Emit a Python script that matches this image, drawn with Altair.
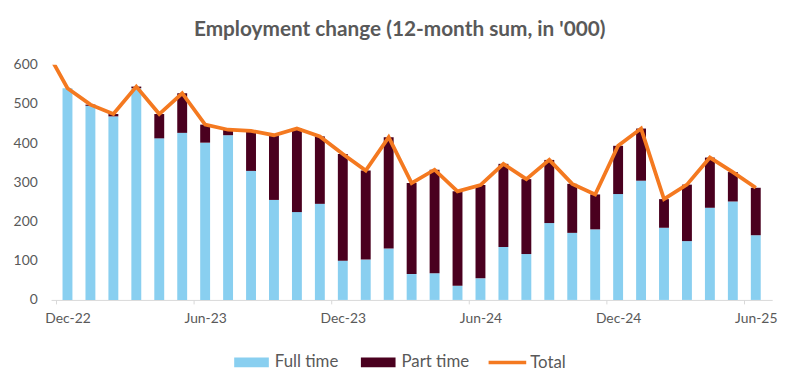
import altair as alt
import pandas as pd

months = ["Dec-22", "Jan-23", "Feb-23", "Mar-23", "Apr-23", "May-23", "Jun-23", "Jul-23",
          "Aug-23", "Sep-23", "Oct-23", "Nov-23", "Dec-23", "Jan-24", "Feb-24", "Mar-24",
          "Apr-24", "May-24", "Jun-24", "Jul-24", "Aug-24", "Sep-24", "Oct-24", "Nov-24",
          "Dec-24", "Jan-25", "Feb-25", "Mar-25", "Apr-25", "May-25", "Jun-25"]
full_time = [540, 495, 468, 540, 412, 426, 401, 420, 329, 255, 224, 245, 100, 103, 131, 66,
             68, 36, 55, 135, 117, 196, 171, 180, 270, 304, 184, 150, 235, 251, 165]
part_time = [0, 3, 6, 4, 62, 101, 46, 14, 102, 165, 213, 172, 272, 227, 284, 232,
             264, 241, 238, 212, 191, 161, 125, 89, 123, 133, 73, 144, 128, 75, 121]
# line series starts one month earlier (clipped at the plot edge)
total_months = ["Nov-22"] + months
total = [645, 540, 498, 474, 544, 474, 527, 447, 434, 431, 420, 437, 417, 372, 330, 415, 298,
         332, 277, 293, 347, 308, 357, 296, 269, 393, 437, 257, 294, 363, 326, 286]
tick_labels = ["Dec-22", "Jun-23", "Dec-23", "Jun-24", "Dec-24", "Jun-25"]
y_ticks = [0, 100, 200, 300, 400, 500, 600]

n = len(months)
bars_df = pd.DataFrame({
    "idx": list(range(n)) * 2,
    "month": months * 2,
    "series": ["Full time"] * n + ["Part time"] * n,
    "value": full_time + part_time,
    "order": [0] * n + [1] * n,
})
line_df = pd.DataFrame({
    "idx": list(range(-1, n)),
    "month": total_months,
    "value": total,
    "series": ["Total"] * (n + 1),
})

FONT = "Lato"
GREY = "#595959"
BLUE = "#89cff0"
MAROON = "#4a001f"
ORANGE = "#f47920"

label_expr = "[" + ",".join("'" + t + "'" for t in tick_labels) + "][round(datum.value/6)]"

x_scale = alt.Scale(domain=[-0.5, n - 0.5], nice=False, zero=False)
y_scale = alt.Scale(domain=[0, 600], nice=False)

x_axis = alt.Axis(values=[0, 6, 12, 18, 24, 30], labelExpr=label_expr, title=None,
                  tickOffset=-11.75, labelOffset=11.75, tickSize=4, tickColor="#d9d9d9",
                  domainColor="#d9d9d9", domainWidth=1, labelPadding=8, labelOverlap=False,
                  labelFont=FONT, labelFontSize=14, labelColor=GREY, grid=False)
y_axis = alt.Axis(values=y_ticks, title=None, ticks=False, domain=False, labelPadding=14,
                  labelOverlap=False, labelFlush=False, tickCount=7,
                  labelFont=FONT, labelFontSize=14, labelColor=GREY, grid=False)

bars = alt.Chart(bars_df).mark_bar(size=10).encode(
    x=alt.X("idx:Q", scale=x_scale, axis=x_axis),
    y=alt.Y("value:Q", scale=y_scale, axis=y_axis, stack="zero"),
    color=alt.Color("series:N",
                    scale=alt.Scale(domain=["Full time", "Part time"], range=[BLUE, MAROON]),
                    legend=alt.Legend(title=None, orient="none", legendX=185, legendY=283,
                                      direction="horizontal", padding=0,
                                      symbolType="M-1,-0.2857H1V0.2857H-1Z", symbolSize=1225,
                                      symbolStrokeWidth=0, symbolOpacity=1,
                                      labelFont=FONT, labelFontSize=17, labelColor=GREY,
                                      labelOffset=6, columnPadding=22)),
    order=alt.Order("order:Q"),
)

line = alt.Chart(line_df).mark_line(strokeWidth=3.8, clip=True).encode(
    x=alt.X("idx:Q", scale=x_scale, axis=x_axis),
    y=alt.Y("value:Q", scale=y_scale, axis=y_axis),
    stroke=alt.Stroke("series:N", scale=alt.Scale(domain=["Total"], range=[ORANGE]),
                      legend=alt.Legend(title=None, orient="none", legendX=440, legendY=280,
                                        padding=0, symbolType="stroke", symbolSize=1444,
                                        symbolStrokeWidth=3.5,
                                        labelFont=FONT, labelFontSize=17, labelColor=GREY,
                                        labelOffset=2)),
)

chart = alt.layer(bars, line).resolve_legend(color="independent", stroke="independent").properties(
    width=728.5,
    height=237.7,
    autosize=alt.AutoSizeParams(type="none"),
    padding={"left": 43.5, "top": 55.3, "right": 20, "bottom": 80},
    title=alt.TitleParams("Employment change (12-month sum, in '000)", font=FONT, fontSize=21,
                          fontWeight="bold", color=GREY, anchor="middle", dx=-12, offset=18),
).configure(background="white").configure_view(stroke=None)

chart.save("out.html", embed_options={"renderer": "svg", "actions": False})
